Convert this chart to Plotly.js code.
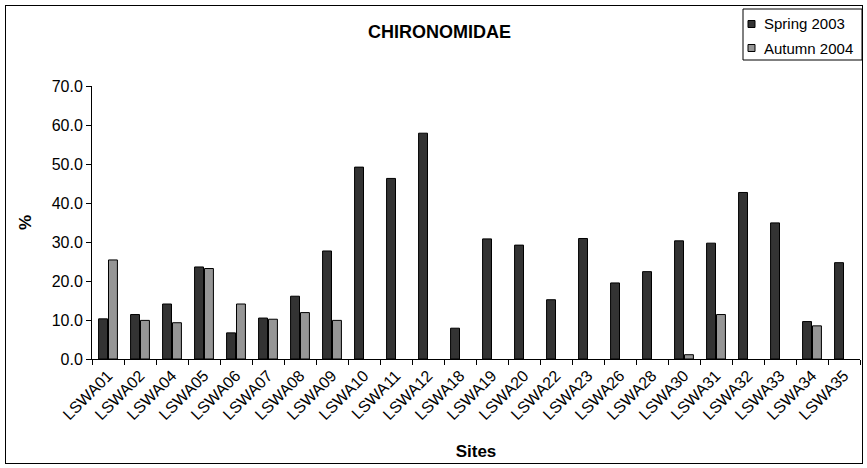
<!DOCTYPE html>
<html>
<head>
<meta charset="utf-8">
<script src="https://cdn.plot.ly/plotly-3.0.1.min.js"></script>
<style>
  html, body { margin: 0; padding: 0; background: #ffffff; }
  #wrap { position: relative; width: 867px; height: 468px; }
  #chart { width: 867px; height: 468px; }
  #frame {
    position: absolute; left: 5px; top: 5px; width: 856px; height: 457px;
    border: 1px solid #000000; pointer-events: none;
  }
</style>
</head>
<body>
<div id="wrap">
  <div id="chart"></div>
  <div id="frame"></div>
</div>
<script>
// Sampling sites along the x axis
const sites = ["LSWA01", "LSWA02", "LSWA04", "LSWA05", "LSWA06", "LSWA07", "LSWA08", "LSWA09",
               "LSWA10", "LSWA11", "LSWA12", "LSWA18", "LSWA19", "LSWA20", "LSWA22", "LSWA23",
               "LSWA26", "LSWA28", "LSWA30", "LSWA31", "LSWA32", "LSWA33", "LSWA34", "LSWA35"];

// Chironomidae share (%) per site; null = no autumn sample
const spring2003 = [10.3, 11.4, 14.1, 23.6, 6.7, 10.5, 16.1, 27.7,
                    49.2, 46.3, 57.9, 7.9, 30.8, 29.2, 15.2, 30.9,
                    19.5, 22.4, 30.3, 29.7, 42.7, 34.9, 9.6, 24.7];
const autumn2004 = [25.4, 9.9, 9.3, 23.2, 14.1, 10.2, 11.9, 9.9,
                    null, null, null, null, null, null, null, null,
                    null, null, 1.1, 11.4, null, null, 8.5, null];

const seriesNames = ["Spring 2003", "Autumn 2004"];
const seriesColors = ["#333333", "#969696"];

const yTicks = [0, 10, 20, 30, 40, 50, 60, 70];

const FONT = "Liberation Sans, Arial, sans-serif";

// Page and plot-area geometry (pixels)
const W = 867, H = 468;
const M = { l: 92, r: 7, t: 86, b: 109 };
const plotW = W - M.l - M.r, plotH = H - M.t - M.b;
const px = x => (x - M.l) / plotW;          // page x -> paper x
const py = y => (H - M.b - y) / plotH;      // page y -> paper y

const traces = [
  {
    type: "bar", name: seriesNames[0], x: sites, y: spring2003,
    marker: { color: seriesColors[0], line: { color: "#000000", width: 1 } }
  },
  {
    type: "bar", name: seriesNames[1], x: sites, y: autumn2004,
    marker: { color: seriesColors[1], line: { color: "#000000", width: 1 } }
  }
];

// Boxed legend in the top-right corner
const legendBox = { x0: 743, x1: 862, y0: 9, y1: 60 };
const legendRows = [24, 48];
const shapes = [{
  type: "rect", xref: "paper", yref: "paper",
  x0: px(legendBox.x0), x1: px(legendBox.x1),
  y0: py(legendBox.y1), y1: py(legendBox.y0),
  fillcolor: "#ffffff", line: { color: "#000000", width: 1 }
}];
const annotations = [];
seriesNames.forEach((name, i) => {
  const cy = legendRows[i];
  shapes.push({
    type: "rect", xref: "paper", yref: "paper",
    x0: px(748), x1: px(755), y0: py(cy + 3.5), y1: py(cy - 3.5),
    fillcolor: seriesColors[i], line: { color: "#000000", width: 1 }
  });
  annotations.push({
    xref: "paper", yref: "paper", x: px(762), y: py(cy),
    xanchor: "left", yanchor: "middle", showarrow: false,
    text: name, font: { family: FONT, size: 15, color: "#000000" }
  });
});

const layout = {
  width: W, height: H,
  margin: M,
  paper_bgcolor: "rgba(0,0,0,0)",
  plot_bgcolor: "#ffffff",
  font: { family: FONT, size: 16, color: "#000000" },
  barmode: "group",
  bargap: 0.38,
  bargroupgap: 0.1,
  showlegend: false,
  title: {
    text: "<b>CHIRONOMIDAE</b>",
    font: { family: FONT, size: 18, color: "#000000" },
    x: 0.507, xanchor: "center",
    y: 0.932, yanchor: "middle"
  },
  xaxis: {
    type: "category",
    tickangle: -45,
    tickson: "boundaries",
    ticks: "outside", ticklen: 5, tickcolor: "#000000",
    showline: true, linecolor: "#000000", linewidth: 1,
    showgrid: false, zeroline: false,
    tickfont: { family: FONT, size: 16, color: "#000000" },
    title: {
      text: "<b>Sites</b>",
      font: { family: FONT, size: 17, color: "#000000" },
      standoff: 22
    }
  },
  yaxis: {
    range: [0, 70],
    tickvals: yTicks,
    tickformat: ".1f",
    ticks: "outside", ticklen: 5, tickcolor: "#000000",
    showline: true, linecolor: "#000000", linewidth: 1,
    showgrid: false, zeroline: false,
    tickfont: { family: FONT, size: 16, color: "#000000" },
    title: {
      text: "<b>%</b>",
      font: { family: FONT, size: 17, color: "#000000" },
      standoff: 15
    }
  },
  shapes: shapes,
  annotations: annotations
};

Plotly.newPlot("chart", traces, layout, { displayModeBar: false, staticPlot: true });
</script>
</body>
</html>
